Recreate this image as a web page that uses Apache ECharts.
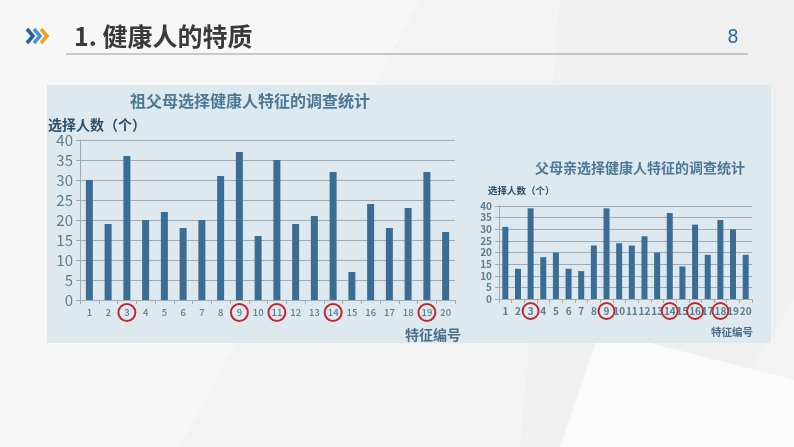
<!DOCTYPE html>
<html><head><meta charset="utf-8">
<script src="https://cdn.jsdelivr.net/npm/echarts@6/dist/echarts.min.js"></script>
<style>html,body{margin:0;padding:0;background:#f3f3f3}#c{width:794px;height:447px}</style>
</head><body><div id="c"></div>
<script>
const categories = ['1','2','3','4','5','6','7','8','9','10','11','12','13','14','15','16','17','18','19','20'];
const grandparentValues = [30,19,36,20,22,18,20,31,37,16,35,19,21,32,7,24,18,23,32,17];
const parentValues = [31,13,39,18,20,13,12,23,39,24,23,27,20,37,14,32,19,34,30,19];
const grandparentCircled = ['3','9','11','14','19'];
const parentCircled = ['3','9','14','16','18'];
const yTicks = [0,5,10,15,20,25,30,35,40];

const barColor = '#3b6d94';
const gridColor = '#9eabb3';
const labelColor = '#5d7c90';
const font = '"Noto Sans CJK SC", "Noto Sans", sans-serif';

function xAxisCfg(gridIndex, circled, size, weight, circleSize, margin) {
  const base = {color: labelColor, fontSize: size, fontWeight: weight, fontFamily: font,
    width: circleSize, height: circleSize, align: 'center', verticalAlign: 'middle', borderWidth: 2, borderRadius: circleSize, padding: 1};
  return {
    type: 'category', gridIndex: gridIndex, data: categories,
    axisLine: {lineStyle: {color: gridColor, width: 1}},
    axisTick: {show: true, length: 4, lineStyle: {color: gridColor}},
    axisLabel: {
      interval: 0, margin: margin, color: labelColor, fontSize: size, fontWeight: weight, fontFamily: font,
      formatter: v => circled.includes(v) ? '{c|' + v + '}' : '{n|' + v + '}',
      rich: {
        c: Object.assign({}, base, {borderColor: '#c3272e'}),
        n: Object.assign({}, base, {borderColor: 'rgba(0,0,0,0)'})
      }
    }
  };
}
function yAxisCfg(gridIndex, size, bold) {
  return {
    type: 'value', gridIndex: gridIndex, min: 0, max: 40, interval: 5,
    axisLine: {show: true, lineStyle: {color: gridColor}},
    axisTick: {show: true, length: 4, lineStyle: {color: gridColor}},
    splitLine: {lineStyle: {color: gridColor, width: 1}},
    axisLabel: {color: labelColor, fontSize: size, fontWeight: bold ? 'bold' : 'normal', fontFamily: font, margin: 7,
      formatter: v => yTicks.includes(v) ? String(v) : ''}
  };
}

const chart = echarts.init(document.getElementById('c'), null, {renderer: 'canvas'});
chart.setOption({
  backgroundColor: '#f3f3f3',
  animation: false,
  graphic: [
    {type: 'polygon', z: -10, shape: {points: [[0,0],[420,0],[180,447],[0,447]]}, style: {fill: '#f7f7f7'}},
    {type: 'polygon', z: -10, shape: {points: [[560,0],[794,0],[794,300],[700,447],[520,447]]}, style: {fill: '#f0f0f0'}},
    {type: 'polygon', z: -10, shape: {points: [[600,330],[794,380],[794,447],[560,447]]}, style: {fill: '#fafafa'}},
    {type: 'rect', z: -5, shape: {x: 47, y: 85, width: 724, height: 258}, style: {fill: '#dde9ef'}},
    // header chevrons
    {type: 'polyline', shape: {points: [[27,29],[33,36],[27,43]]}, style: {stroke: '#1f5fa8', lineWidth: 3.5, fill: null}},
    {type: 'polyline', shape: {points: [[34,29],[40,36],[34,43]]}, style: {stroke: '#4a90d0', lineWidth: 3.5, fill: null}},
    {type: 'polyline', shape: {points: [[41,29],[47,36],[41,43]]}, style: {stroke: '#f0a020', lineWidth: 3.5, fill: null}},
    {type: 'text', x: 74, y: 36, style: {text: '1. 健康人的特质', fill: '#3a3a3a', font: 'bold 25px ' + font, textVerticalAlign: 'middle'}},
    {type: 'text', x: 733, y: 38, style: {text: '8', fill: '#2a6aa8', font: '20px "DejaVu Sans Condensed", "Liberation Sans Narrow", sans-serif', textAlign: 'center', textVerticalAlign: 'middle'}},
    {type: 'line', shape: {x1: 66, y1: 54, x2: 748, y2: 54}, style: {stroke: '#9a9a9a', lineWidth: 1}},
    // chart texts
    {type: 'text', x: 250, y: 101, style: {text: '祖父母选择健康人特征的调查统计', fill: '#4d7894', font: 'bold 16px ' + font, textAlign: 'center', textVerticalAlign: 'middle'}},
    {type: 'text', x: 48, y: 125, style: {text: '选择人数（个）', fill: '#2e4f68', font: 'bold 14px ' + font, textVerticalAlign: 'middle'}},
    {type: 'text', x: 461, y: 335, style: {text: '特征编号', fill: '#4a6f8a', font: 'bold 14px ' + font, textAlign: 'right', textVerticalAlign: 'middle'}},
    {type: 'text', x: 640, y: 168, style: {text: '父母亲选择健康人特征的调查统计', fill: '#4d7894', font: 'bold 14px ' + font, textAlign: 'center', textVerticalAlign: 'middle'}},
    {type: 'text', x: 488, y: 190, style: {text: '选择人数（个）', fill: '#2e4f68', font: 'bold 9.5px ' + font, textVerticalAlign: 'middle'}},
    {type: 'text', x: 753, y: 332, style: {text: '特征编号', fill: '#4a6f8a', font: 'bold 10.5px ' + font, textAlign: 'right', textVerticalAlign: 'middle'}}
  ],
  grid: [
    {left: 80, top: 140, width: 375, height: 160},
    {left: 499, top: 206, width: 253, height: 93}
  ],
  xAxis: [xAxisCfg(0, grandparentCircled, 9.5, 500, 15, 4), xAxisCfg(1, parentCircled, 10, 'bold', 14, 4)],
  yAxis: [yAxisCfg(0, 15, false), yAxisCfg(1, 10, true)],
  series: [
    {type: 'bar', xAxisIndex: 0, yAxisIndex: 0, data: grandparentValues, barWidth: 7, itemStyle: {color: barColor}},
    {type: 'bar', xAxisIndex: 1, yAxisIndex: 1, data: parentValues, barWidth: 6, itemStyle: {color: barColor}}
  ]
});
</script></body></html>
